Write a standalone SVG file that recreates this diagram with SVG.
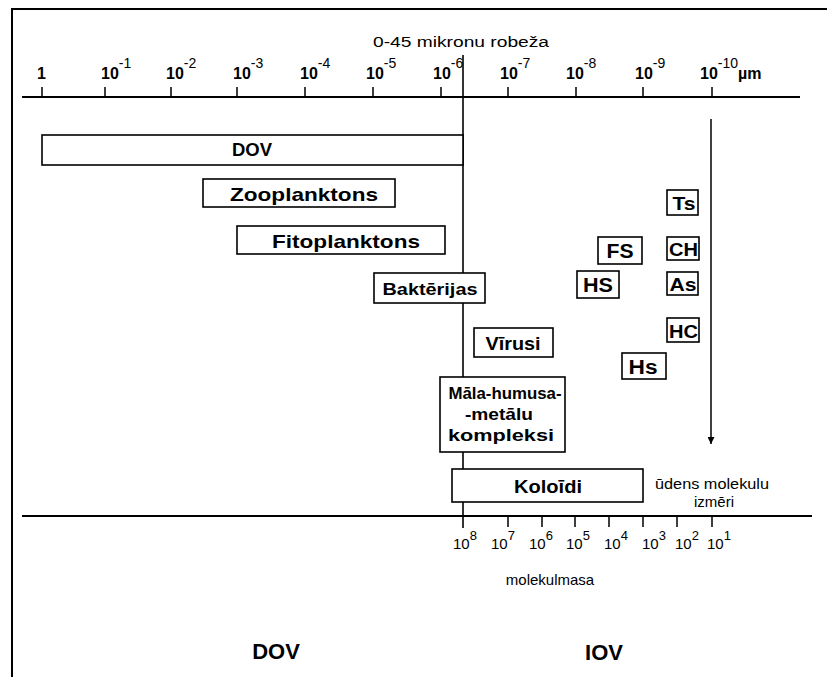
<svg xmlns="http://www.w3.org/2000/svg" width="827" height="677" viewBox="0 0 827 677">
<defs>
<marker id="ah" viewBox="0 0 10 10" refX="10" refY="5" markerWidth="7" markerHeight="7" markerUnits="userSpaceOnUse" orient="auto">
<path d="M0,0 L10,5 L0,10 z" fill="#000"/>
</marker>
<style>
.ln{stroke:#000;stroke-width:2;fill:none}
.vl{stroke:#000;stroke-width:1.6;fill:none}
.tk{stroke:#000;stroke-width:1.5;fill:none}
.box{fill:#fff;stroke:#000;stroke-width:1.6}
.b{font-family:"Liberation Sans",Arial,Helvetica,sans-serif;font-weight:bold;fill:#000}
.r{font-family:"Liberation Sans",Arial,Helvetica,sans-serif;fill:#000}
.ax{font-size:16px}
.sup{font-size:14px;font-weight:normal}
.mx{font-size:15px}
.msup{font-size:13px}
</style>
</defs>
<rect width="827" height="677" fill="#fff"/>
<g id="frame">
<path class="ln" d="M12,677 V9 H827"/>
</g>
<g id="connectors">
<path class="ln" d="M22,97 H800"/>
<path class="tk" d="M42,87 V97 M105,87 V97 M171,87 V97 M237,87 V97 M305,87 V97 M373,87 V97 M441,87 V97 M508,87 V97 M576,87 V97 M643,87 V97 M712,87 V97"/>
<path class="vl" d="M463,55 V528"/>
<path class="ln" d="M22,516 H812"/>
<path class="tk" d="M508,516 V527 M542,516 V527 M575,516 V527 M609,516 V527 M643,516 V527 M677,516 V527 M712,516 V527"/>
<path class="tk" d="M711,119 V444" marker-end="url(#ah)"/>
</g>
<g id="top-axis-labels">
<text class="r" x="461" y="47" font-size="14" text-anchor="middle" textLength="176" lengthAdjust="spacingAndGlyphs">0-45 mikronu robeža</text>
<text class="b ax" x="37" y="79">1</text>
<text class="b ax" x="101" y="79">10<tspan class="sup" dy="-11">-1</tspan></text>
<text class="b ax" x="166" y="79">10<tspan class="sup" dy="-11">-2</tspan></text>
<text class="b ax" x="233" y="79">10<tspan class="sup" dy="-11">-3</tspan></text>
<text class="b ax" x="300" y="79">10<tspan class="sup" dy="-11">-4</tspan></text>
<text class="b ax" x="366" y="79">10<tspan class="sup" dy="-11">-5</tspan></text>
<text class="b ax" x="433" y="79">10<tspan class="sup" dy="-11">-6</tspan></text>
<text class="b ax" x="500" y="79">10<tspan class="sup" dy="-11">-7</tspan></text>
<text class="b ax" x="566" y="79">10<tspan class="sup" dy="-11">-8</tspan></text>
<text class="b ax" x="635" y="79">10<tspan class="sup" dy="-11">-9</tspan></text>
<text class="b ax" x="700" y="79">10<tspan class="sup" dy="-11">-10</tspan><tspan dy="11">µm</tspan></text>
</g>
<g id="node-dov">
<rect class="box" x="42" y="135" width="421" height="30"/>
<text class="b" x="252" y="156" font-size="18" text-anchor="middle" textLength="40" lengthAdjust="spacingAndGlyphs">DOV</text>
</g>
<g id="node-zooplanktons">
<rect class="box" x="203" y="179" width="192" height="28"/>
<text class="b" x="304" y="201" font-size="19" text-anchor="middle" textLength="148" lengthAdjust="spacingAndGlyphs">Zooplanktons</text>
</g>
<g id="node-fitoplanktons">
<rect class="box" x="237" y="226" width="208" height="28"/>
<text class="b" x="346" y="248" font-size="19" text-anchor="middle" textLength="148" lengthAdjust="spacingAndGlyphs">Fitoplanktons</text>
</g>
<g id="node-bakterijas">
<rect class="box" x="374" y="273" width="111" height="30"/>
<text class="b" x="430" y="295" font-size="17" text-anchor="middle" textLength="95" lengthAdjust="spacingAndGlyphs">Baktērijas</text>
</g>
<g id="node-virusi">
<rect class="box" x="474" y="328" width="79" height="29"/>
<text class="b" x="513" y="350" font-size="18" text-anchor="middle" textLength="55" lengthAdjust="spacingAndGlyphs">Vīrusi</text>
</g>
<g id="node-mala">
<rect class="box" x="440" y="377" width="125" height="75"/>
<text class="b" x="505" y="399" font-size="16" text-anchor="middle" textLength="113" lengthAdjust="spacingAndGlyphs">Māla-humusa-</text>
<text class="b" x="499" y="420" font-size="16" text-anchor="middle" textLength="68" lengthAdjust="spacingAndGlyphs">-metālu</text>
<text class="b" x="501" y="441" font-size="16" text-anchor="middle" textLength="106" lengthAdjust="spacingAndGlyphs">kompleksi</text>
</g>
<g id="node-koloidi">
<rect class="box" x="452" y="469" width="191" height="33"/>
<text class="b" x="548" y="493" font-size="19" text-anchor="middle" textLength="68" lengthAdjust="spacingAndGlyphs">Koloīdi</text>
</g>
<g id="node-ts">
<rect class="box" x="667" y="190" width="31" height="25"/>
<text class="b" x="684" y="210" font-size="19" text-anchor="middle" textLength="23" lengthAdjust="spacingAndGlyphs">Ts</text>
</g>
<g id="node-ch">
<rect class="box" x="667" y="237" width="32" height="23"/>
<text class="b" x="683.5" y="256" font-size="19" text-anchor="middle" textLength="29" lengthAdjust="spacingAndGlyphs">CH</text>
</g>
<g id="node-as">
<rect class="box" x="667" y="272" width="31" height="23"/>
<text class="b" x="683" y="291" font-size="19" text-anchor="middle" textLength="27" lengthAdjust="spacingAndGlyphs">As</text>
</g>
<g id="node-hc">
<rect class="box" x="667" y="318" width="32" height="24"/>
<text class="b" x="683.5" y="338" font-size="19" text-anchor="middle" textLength="29" lengthAdjust="spacingAndGlyphs">HC</text>
</g>
<g id="node-fs">
<rect class="box" x="598" y="237" width="44" height="27"/>
<text class="b" x="620" y="258" font-size="20" text-anchor="middle" textLength="27" lengthAdjust="spacingAndGlyphs">FS</text>
</g>
<g id="node-hs-upper">
<rect class="box" x="577" y="271" width="42" height="27"/>
<text class="b" x="598" y="292" font-size="20" text-anchor="middle" textLength="30" lengthAdjust="spacingAndGlyphs">HS</text>
</g>
<g id="node-hs-lower">
<rect class="box" x="622" y="353" width="44" height="26"/>
<text class="b" x="643" y="374" font-size="20" text-anchor="middle" textLength="29" lengthAdjust="spacingAndGlyphs">Hs</text>
</g>
<g id="water-label">
<text class="r" x="712" y="489" font-size="15" text-anchor="middle" textLength="114" lengthAdjust="spacingAndGlyphs">ūdens molekulu</text>
<text class="r" x="714" y="507" font-size="15" text-anchor="middle">izmēri</text>
</g>
<g id="bottom-axis-labels">
<text class="r mx" x="453" y="549">10<tspan class="msup" dy="-9">8</tspan></text>
<text class="r mx" x="491" y="549">10<tspan class="msup" dy="-9">7</tspan></text>
<text class="r mx" x="529" y="549">10<tspan class="msup" dy="-9">6</tspan></text>
<text class="r mx" x="566" y="549">10<tspan class="msup" dy="-9">5</tspan></text>
<text class="r mx" x="604" y="549">10<tspan class="msup" dy="-9">4</tspan></text>
<text class="r mx" x="642" y="549">10<tspan class="msup" dy="-9">3</tspan></text>
<text class="r mx" x="675" y="549">10<tspan class="msup" dy="-9">2</tspan></text>
<text class="r mx" x="707" y="549">10<tspan class="msup" dy="-9">1</tspan></text>
<text class="r" x="550" y="585" font-size="15" text-anchor="middle">molekulmasa</text>
</g>
<g id="region-labels">
<text class="b" x="276" y="659" font-size="22" text-anchor="middle">DOV</text>
<text class="b" x="604" y="660" font-size="22" text-anchor="middle">IOV</text>
</g>
</svg>
